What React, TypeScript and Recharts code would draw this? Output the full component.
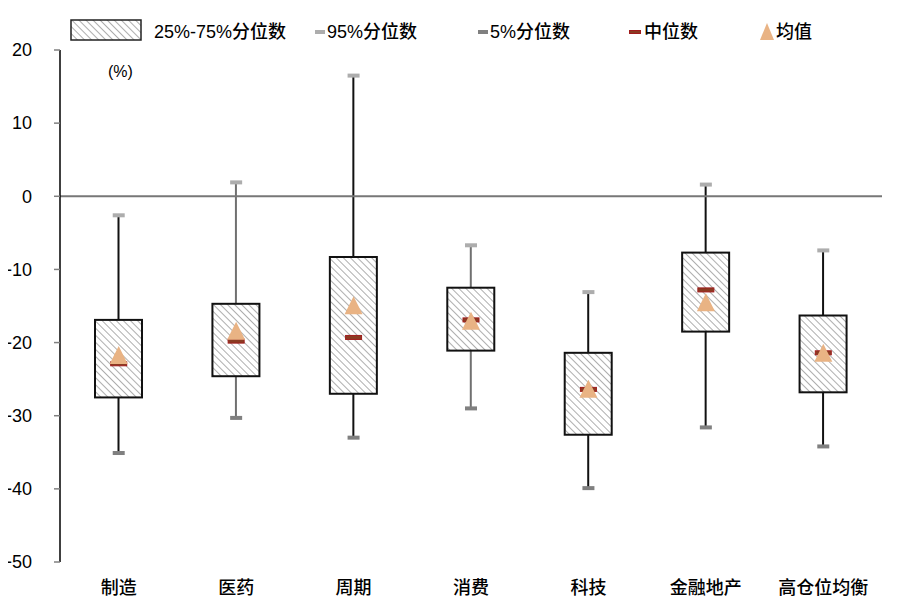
import React from "react"
import { ComposedChart, Bar, Scatter, XAxis, YAxis, ReferenceLine } from "recharts"

const categories = ["制造", "医药", "周期", "消费", "科技", "金融地产", "高仓位均衡"]
const p95 = [-2.6, 1.9, 16.5, -6.7, -13.1, 1.6, -7.4]
const q3 = [-16.9, -14.7, -8.3, -12.5, -21.4, -7.7, -16.3]
const q1 = [-27.5, -24.6, -27.0, -21.1, -32.6, -18.5, -26.8]
const p5 = [-35.1, -30.3, -33.0, -29.0, -39.9, -31.6, -34.2]
const medians = [-22.9, -19.8, -19.3, -16.9, -26.4, -12.8, -21.4]
const means = [-21.7, -18.4, -14.9, -17.0, -26.3, -14.5, -21.4]
const yTicks = [-50, -40, -30, -20, -10, 0, 10, 20]

// whisker line colour per category (as drawn in the source)
const whiskerColors = ["#111", "#707070", "#111", "#707070", "#111", "#111", "#111"]

const FONT = '"Liberation Sans", Arial, "Noto Sans CJK SC", sans-serif'

const data = categories.map((name, i) => ({
  name,
  whisker: [p5[i], p95[i]],
  box: [q1[i], q3[i]],
  p95: p95[i],
  p5: p5[i],
  median: medians[i],
  mean: means[i],
}))

const WhiskerShape = (props: any) => {
  const { x, y, width, height, index } = props
  const cx = x + width / 2
  const top = Math.min(y, y + height)
  const bottom = Math.max(y, y + height)
  return <line x1={cx} x2={cx} y1={top} y2={bottom} stroke={whiskerColors[index]} strokeWidth={2} />
}

const BoxShape = (props: any) => {
  const { x, y, width, height } = props
  const top = Math.min(y, y + height)
  return (
    <rect x={x} y={top} width={width} height={Math.abs(height)} fill="url(#hatch)" stroke="#111" strokeWidth={2} />
  )
}

const cap = (color: string) => (props: any) => {
  const { cx, cy } = props
  return <rect x={cx - 6} y={cy - 2} width={12} height={4} fill={color} />
}

const MedianShape = (props: any) => {
  const { cx, cy } = props
  return <rect x={cx - 8} y={cy - 2} width={16} height={4} fill="#8a3b22" stroke="#a01c1c" strokeWidth={1} />
}

const MeanShape = (props: any) => {
  const { cx, cy } = props
  return <polygon points={`${cx},${cy - 9} ${cx + 9},${cy + 9} ${cx - 9},${cy + 9}`} fill="#e9b384" />
}

// y tick label with a long minus sign
const YTick = (props: any) => {
  const { x, y, payload } = props
  const v = payload.value as number
  const label = v < 0 ? "\u2212" + Math.abs(v) : String(v)
  return (
    <text x={x} y={y} dy="0.35em" textAnchor="end" fontSize={18} fill="#000" fontFamily={FONT}>
      {label}
    </text>
  )
}

const legendText: React.CSSProperties = {
  position: "absolute",
  fontSize: 18,
  lineHeight: "20px",
  color: "#000",
  whiteSpace: "nowrap",
  fontWeight: 500,
}

export default function App() {
  return (
    <div style={{ position: "relative", left: -8, top: -8, width: 900, height: 600, fontFamily: FONT, background: "#fff" }}>
      <svg width={0} height={0} style={{ position: "absolute" }}>
        <defs>
          <pattern id="hatch" patternUnits="userSpaceOnUse" width={5} height={5} patternTransform="rotate(-45)">
            <rect width={5} height={5} fill="#fff" />
            <line x1={0} y1={0} x2={0} y2={5} stroke="#9a9a9a" strokeWidth={1.6} />
          </pattern>
        </defs>
      </svg>

      {/* legend */}
      <svg width={72} height={22} style={{ position: "absolute", left: 70, top: 19 }}>
        <rect x={1} y={1} width={70} height={20} fill="url(#hatch)" stroke="#222" strokeWidth={1.5} />
      </svg>
      <span style={{ ...legendText, left: 154, top: 22 }}>25%-75%分位数</span>
      <div style={{ position: "absolute", left: 315, top: 30, width: 10, height: 4, background: "#adadad" }} />
      <span style={{ ...legendText, left: 327, top: 22 }}>95%分位数</span>
      <div style={{ position: "absolute", left: 478, top: 30, width: 10, height: 4, background: "#808080" }} />
      <span style={{ ...legendText, left: 490, top: 22 }}>5%分位数</span>
      <div style={{ position: "absolute", left: 629, top: 30, width: 12, height: 4, background: "#8a3b22", border: "1px solid #a01c1c", boxSizing: "border-box" }} />
      <span style={{ ...legendText, left: 644, top: 22 }}>中位数</span>
      <svg width={16} height={18} style={{ position: "absolute", left: 759, top: 23 }}>
        <polygon points="8,0 15,17 1,17" fill="#e9b384" />
      </svg>
      <span style={{ ...legendText, left: 776, top: 22 }}>均值</span>
      <span style={{ position: "absolute", left: 108, top: 63, fontSize: 16, color: "#000" }}>(%)</span>

      <div style={{ position: "absolute", left: 0, top: 0 }}>
        <ComposedChart width={900} height={600} data={data} margin={{ top: 50, right: 18, left: 0, bottom: 8 }}>
          <XAxis
            dataKey="name"
            axisLine={false}
            tickLine={false}
            height={30}
            tickMargin={13}
            interval={0}
            tick={{ fontSize: 18, fill: "#000", fontFamily: FONT, fontWeight: 500 }}
          />
          <XAxis xAxisId="box" dataKey="name" hide />
          <YAxis
            domain={[-50, 20]}
            ticks={yTicks}
            width={60}
            tickSize={6}
            tickMargin={22}
            axisLine={{ stroke: "#000", strokeWidth: 1.5 }}
            tickLine={{ stroke: "#808080", strokeWidth: 1.5 }}
            tick={<YTick />}
            allowDataOverflow
          />
          <ReferenceLine y={0} stroke="#777" strokeWidth={2} />
          <Bar dataKey="whisker" barSize={47} shape={WhiskerShape} isAnimationActive={false} />
          <Bar xAxisId="box" dataKey="box" barSize={47} shape={BoxShape} isAnimationActive={false} />
          <Scatter xAxisId="box" dataKey="p95" shape={cap("#adadad")} isAnimationActive={false} />
          <Scatter xAxisId="box" dataKey="p5" shape={cap("#808080")} isAnimationActive={false} />
          <Scatter xAxisId="box" dataKey="median" shape={MedianShape} isAnimationActive={false} />
          <Scatter xAxisId="box" dataKey="mean" shape={MeanShape} isAnimationActive={false} />
        </ComposedChart>
      </div>
    </div>
  )
}
